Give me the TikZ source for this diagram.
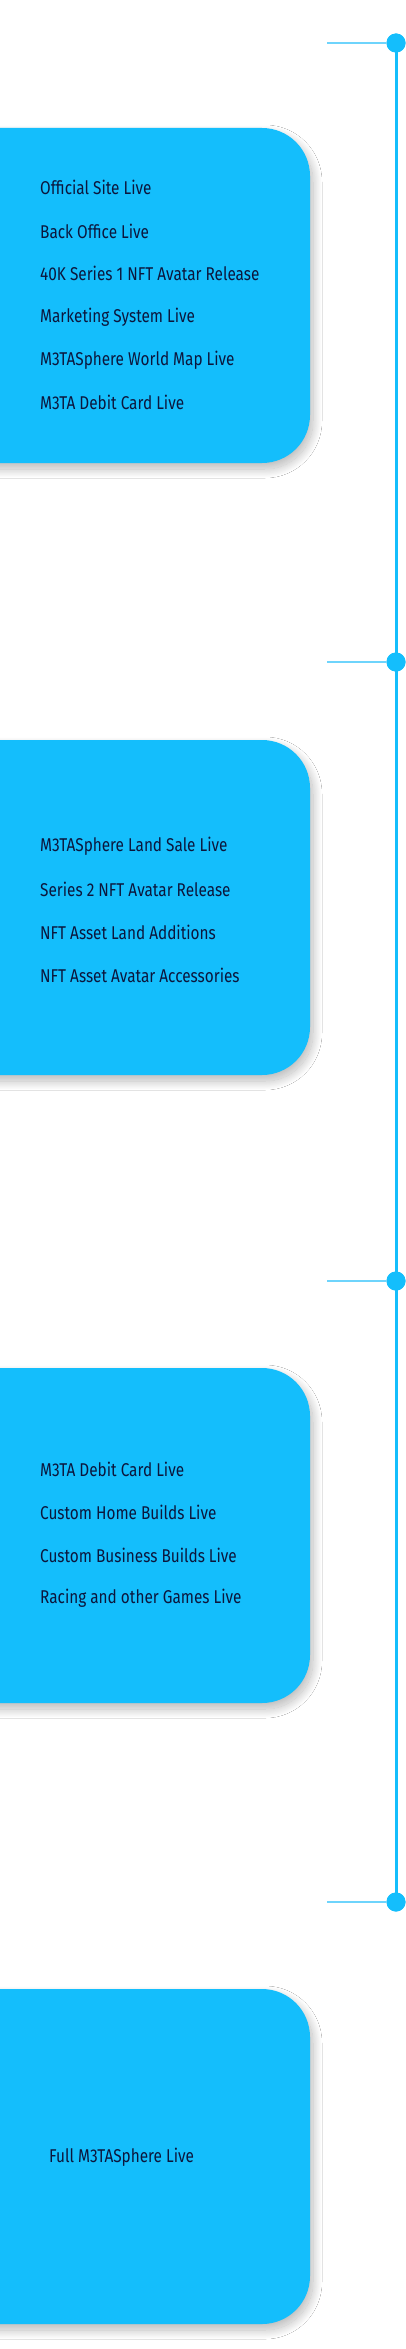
\documentclass[tikz,border=0pt]{standalone}
\usepackage{fontspec}
\setmainfont[FakeStretch=0.83]{Fira Sans}
\usetikzlibrary{shadows.blur}
\definecolor{cardblue}{RGB}{20,190,252}
\definecolor{lineblue}{RGB}{20,190,252}
\definecolor{ticklight}{RGB}{110,212,252}
\definecolor{navy}{RGB}{12,22,60}
\tikzset{
  card/.style={fill=cardblue, rounded corners=48pt,
    blur shadow={shadow xshift=3pt, shadow yshift=-6pt, shadow blur radius=9pt, shadow blur steps=30, shadow opacity=28}},
  item/.style={anchor=west, inner sep=0pt, text=navy, font=\fontsize{18.5}{22}\selectfont},
  dot/.style={circle, fill=lineblue, minimum size=19pt, inner sep=0pt},
  tick/.style={draw=ticklight, line width=1.5pt},
  spine/.style={draw=lineblue, line width=3pt}
}
\begin{document}
\begin{tikzpicture}[x=1pt,y=-1pt]
\useasboundingbox (0,0) rectangle (406,2349);
\fill[white] (0,0) rectangle (406,2349);
\begin{scope}
\clip (0,0) rectangle (406,2349);
% cards
\path[card] (-80,128) rectangle (310,463);
\path[card] (-80,740) rectangle (310,1075);
\path[card] (-80,1368) rectangle (310,1703);
\path[card] (-80,1989) rectangle (310,2324);
\end{scope}
% timeline
\coordinate (t1) at (327,43);
\coordinate (t2) at (327,662);
\coordinate (t3) at (327,1281);
\coordinate (t4) at (327,1902);
\node[dot] (d1) at (396,43) {};
\node[dot] (d2) at (396,662) {};
\node[dot] (d3) at (396,1281) {};
\node[dot] (d4) at (396,1902) {};
\draw[spine] (d1.center) -- (d2.center) -- (d3.center) -- (d4.center);
\draw[tick] (t1) -- (d1);
\draw[tick] (t2) -- (d2);
\draw[tick] (t3) -- (d3);
\draw[tick] (t4) -- (d4);
\node[dot] at (396,43) {};
\node[dot] at (396,662) {};
\node[dot] at (396,1281) {};
\node[dot] at (396,1902) {};
% texts
\node[item] (a1) at (40,187) {Official Site Live};
\node[item] (a2) at (40,231) {Back Office Live};
\node[item] (a3) at (40,273) {40K Series 1 NFT Avatar Release};
\node[item] (a4) at (40,317) {Marketing System Live};
\node[item] (a5) at (40,360) {M3TASphere World Map Live};
\node[item] (a6) at (40,402) {M3TA Debit Card Live};
\node[item] (b1) at (40,846) {M3TASphere Land Sale Live};
\node[item] (b2) at (40,889) {Series 2 NFT Avatar Release};
\node[item] (b3) at (40,932) {NFT Asset Land Additions};
\node[item] (b4) at (40,975) {NFT Asset Avatar Accessories};
\node[item] (c1) at (40,1469) {M3TA Debit Card Live};
\node[item] (c2) at (40,1512) {Custom Home Builds Live};
\node[item] (c3) at (40,1555) {Custom Business Builds Live};
\node[item] (c4) at (40,1598) {Racing and other Games Live};
\node[item] (e1) at (49,2157) {Full M3TASphere Live};
\end{tikzpicture}
\end{document}
